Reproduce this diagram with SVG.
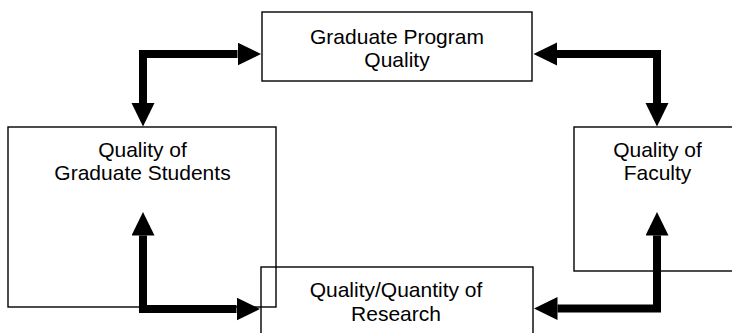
<svg xmlns="http://www.w3.org/2000/svg" width="732" height="333" viewBox="0 0 732 333">
<style>
.box{fill:none;stroke:#000;stroke-width:1.4}
.lbl{font-family:"Liberation Sans",Arial,Helvetica,sans-serif;font-size:21px;fill:#000;text-anchor:middle}
.conn{fill:none;stroke:#000;stroke-width:8;stroke-linejoin:miter;marker-start:url(#ah);marker-end:url(#ah)}
</style>
<defs>
<marker id="ah" markerUnits="userSpaceOnUse" markerWidth="24" markerHeight="24" refX="0" refY="11.5" orient="auto-start-reverse" viewBox="0 0 24 24">
<path d="M0,0 L23.5,11.5 L0,23 z" fill="#000"/>
</marker>
</defs>
<rect width="732" height="333" fill="#fff"/>
<g id="node-program">
<rect class="box" x="262" y="12" width="270" height="69"/>
<text class="lbl" x="397" y="44">Graduate Program</text>
<text class="lbl" x="397" y="67">Quality</text>
</g>
<g id="node-students">
<rect class="box" x="8" y="127" width="268" height="180"/>
<text class="lbl" x="142.5" y="157">Quality of</text>
<text class="lbl" x="142.5" y="180">Graduate Students</text>
</g>
<g id="node-faculty">
<rect class="box" x="574" y="127" width="167" height="144"/>
<text class="lbl" x="657.5" y="157">Quality of</text>
<text class="lbl" x="657.5" y="180">Faculty</text>
</g>
<g id="node-research">
<rect class="box" x="261" y="267" width="272" height="70"/>
<text class="lbl" x="396" y="297">Quality/Quantity of</text>
<text class="lbl" x="396" y="320.5">Research</text>
</g>
<g id="connectors">
<path class="conn" d="M143,103 V54 H237.5"/>
<path class="conn" d="M557,54 H657 V103"/>
<path class="conn" d="M143,235.5 V309 H236.5"/>
<path class="conn" d="M657,235.5 V308.5 H557.5"/>
</g>
</svg>
